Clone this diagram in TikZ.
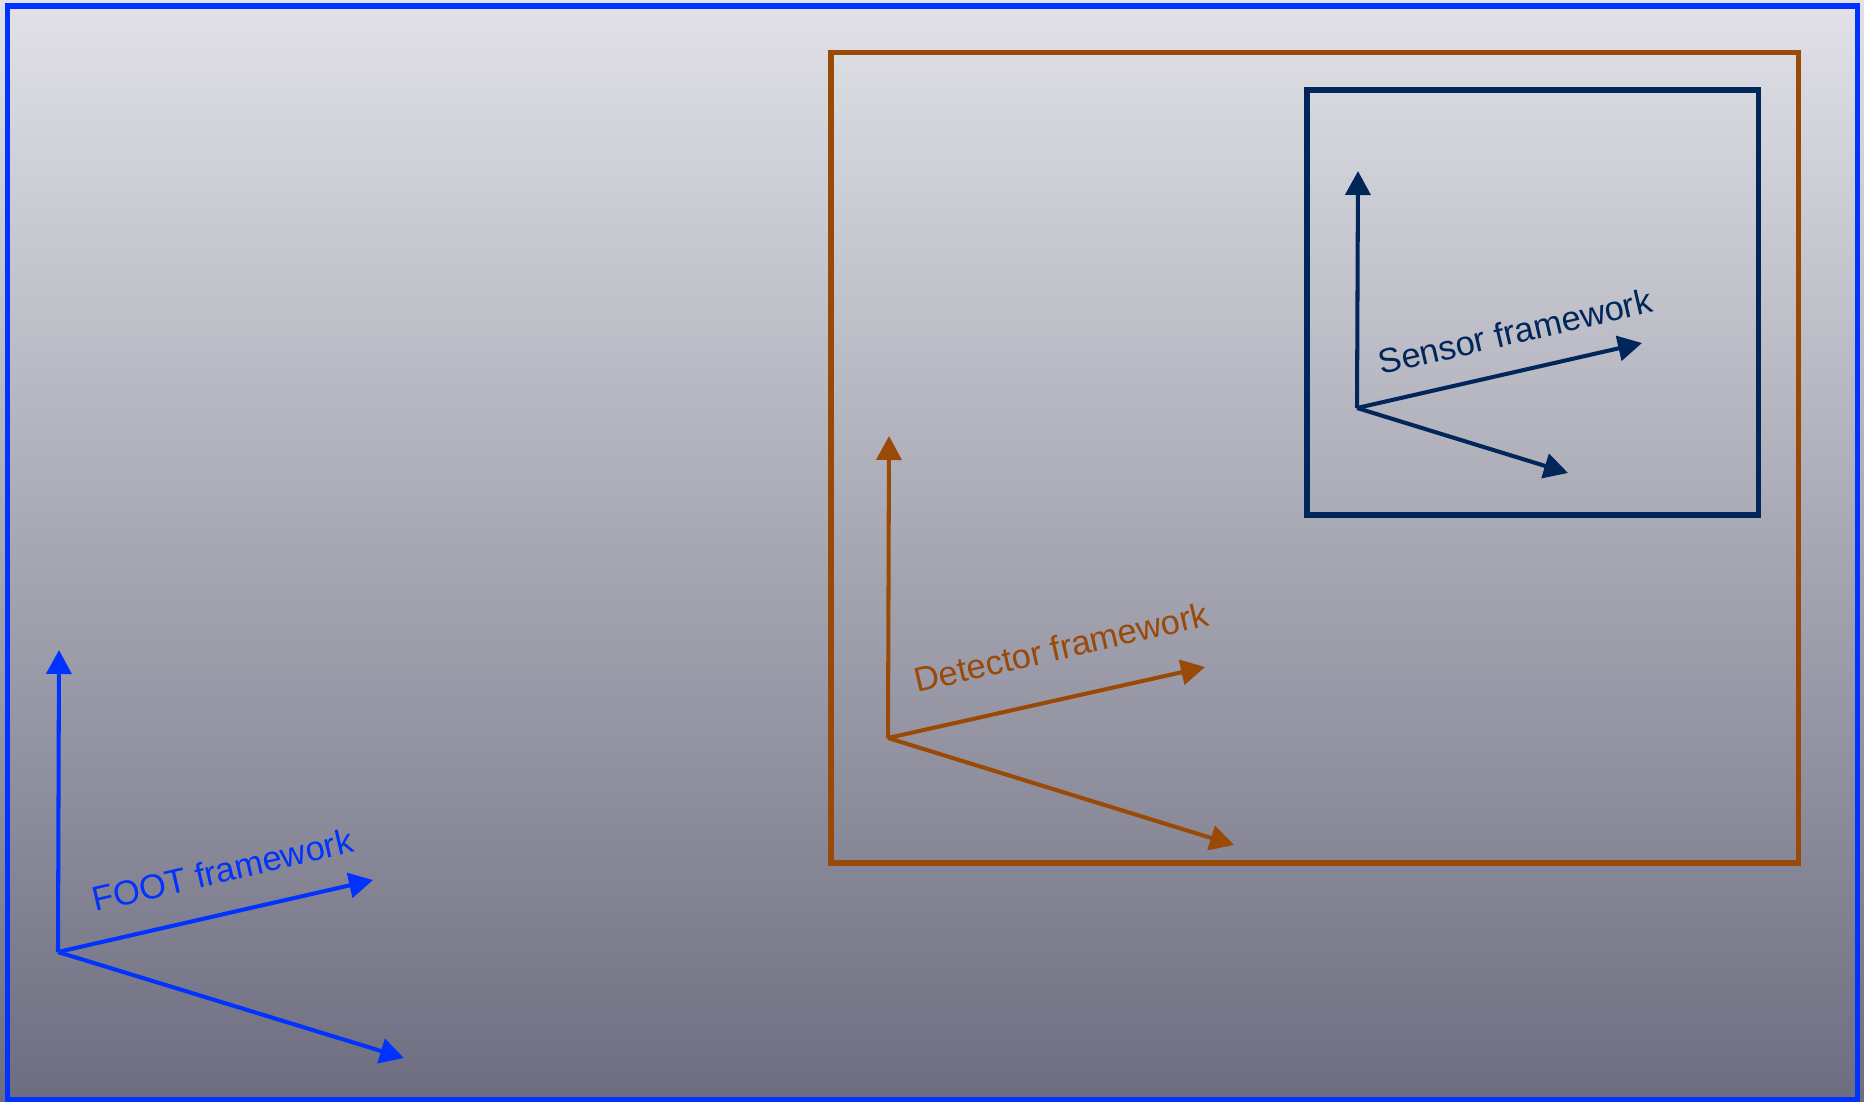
\documentclass[tikz,border=0pt]{standalone}
\usepackage{fontspec}
\setmainfont{Liberation Sans}
\usepackage{xcolor}
\usepackage{tikz}
\usetikzlibrary{
  arrows.meta,
  positioning,
  calc
}
\definecolor{fwFoot}{HTML}{0033FF}
\definecolor{fwDetector}{HTML}{994A07}
\definecolor{fwSensor}{HTML}{00265A}
\definecolor{fwBgTop}{HTML}{E1E1E7}
\definecolor{fwBgBottom}{HTML}{6D6D80}
\tikzset{
  axisarrow/.style={-{Triangle[length=2.4mm, width=2.5mm]}, line width=1.15pt},
  framebox/.style={line width=1.45pt},
  framelabel/.style={
    font=\fontsize{9.8}{12}\selectfont, anchor=base west, rotate=13, inner sep=0pt
  }
}

\begin{document}
\begin{tikzpicture}[x=0.1mm, y=0.1mm]
  % background and outer frame
  \useasboundingbox (0,0) rectangle (1864,1101);
  \shade[top color=fwBgTop, bottom color=fwBgBottom] (0,0) rectangle (1864,1101);
  \draw[framebox, fwFoot] (7.5,1.5) rectangle (1857.5,1095);
  \draw[framebox, fwDetector] (831,238) rectangle (1798.5,1048.5);
  \draw[framebox, fwSensor] (1307,586) rectangle (1758.5,1011);

  % FOOT framework
  \coordinate (footO) at (58,149);
  \coordinate (footY) at (59,451);
  \coordinate (footX) at (373,221);
  \coordinate (footZ) at (404,43);
  \draw[axisarrow, fwFoot] (footO) -- (footY);
  \draw[axisarrow, fwFoot] (footO) -- (footX);
  \draw[axisarrow, fwFoot] (footO) -- (footZ);
  \node[framelabel, text=fwFoot] (footLabel) at (95,189) {FOOT framework};

  % Detector framework
  \coordinate (detO) at (888,363);
  \coordinate (detY) at (889,665);
  \coordinate (detX) at (1205,434);
  \coordinate (detZ) at (1234,256);
  \draw[axisarrow, fwDetector] (detO) -- (detY);
  \draw[axisarrow, fwDetector] (detO) -- (detX);
  \draw[axisarrow, fwDetector] (detO) -- (detZ);
  \node[framelabel, text=fwDetector] (detLabel) at (917,408) {Detector framework};

  % Sensor framework
  \coordinate (senO) at (1357,693);
  \coordinate (senY) at (1358,930);
  \coordinate (senX) at (1642,758);
  \coordinate (senZ) at (1568,628);
  \draw[axisarrow, fwSensor] (senO) -- (senY);
  \draw[axisarrow, fwSensor] (senO) -- (senX);
  \draw[axisarrow, fwSensor] (senO) -- (senZ);
  \node[framelabel, text=fwSensor] (senLabel) at (1381,726) {Sensor framework};
\end{tikzpicture}
\end{document}
